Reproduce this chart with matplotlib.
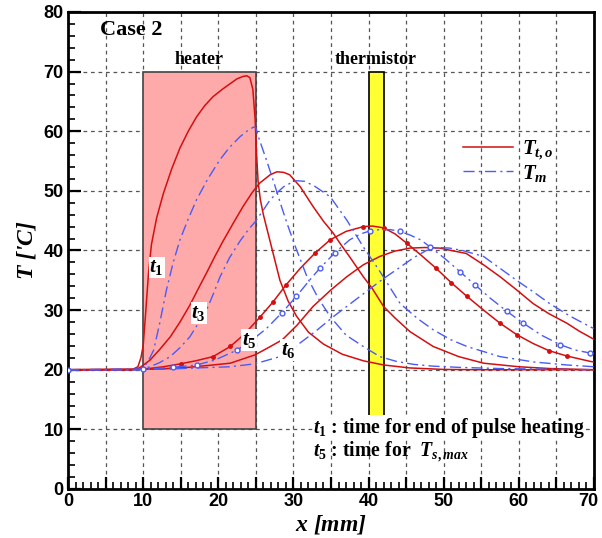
import matplotlib
matplotlib.use("Agg")
import matplotlib.pyplot as plt
from matplotlib.ticker import MultipleLocator, FixedLocator, FuncFormatter
from matplotlib.lines import Line2D
from matplotlib.patches import Rectangle
from matplotlib.transforms import ScaledTranslation

plt.rcParams['mathtext.fontset'] = 'custom'
plt.rcParams['mathtext.it'] = 'Liberation Serif:italic:bold'
plt.rcParams['mathtext.rm'] = 'Liberation Serif:bold'
plt.rcParams['mathtext.bf'] = 'Liberation Serif:bold'

# ---------------- data ----------------
x_r1 = [0, 8.5, 9.3, 9.7, 10.0, 10.3, 10.7, 11.1, 11.8, 12.7, 13.8, 14.9, 16.0, 17.1, 18.2, 19.3, 20.5,
        21.6, 22.5, 23.3, 23.8, 24.2, 24.6, 24.9, 25.1, 25.3, 25.6, 26.0, 26.6, 27.3, 28.2, 29.3, 30.4,
        32.0, 34.0, 36.5, 39.3, 42.0, 45.5, 50, 55, 70]
T_r1 = [20, 20, 20.5, 22, 24, 29, 36, 41, 45.5, 49.6, 53.7, 57.2, 60.0, 62.4, 64.3, 65.8, 67.0,
        68.0, 68.8, 69.2, 69.3, 69.0, 67.0, 62.0, 56.0, 51.5, 48.5, 46.0, 43.0, 39.5, 35.0, 31.5, 29.0,
        26.3, 24.3, 22.6, 21.5, 20.8, 20.3, 20.05, 20, 20]

x_r3 = [0, 9.0, 9.6, 10.9, 12.2, 13.6, 14.9, 16.2, 17.3, 18.5, 19.5, 20.6, 22.0, 23.3, 24.5, 25.5,
        26.9, 27.8, 28.7, 29.5, 30.9, 32.6, 34.0, 35.3, 36.2, 37.5, 39.3, 40.5, 42.0, 43.5, 45.5,
        48.6, 52.0, 55.3, 60, 64.1, 70]
T_r3 = [20, 20, 20.4, 21.6, 23.4, 25.5, 28.0, 30.8, 33.5, 36.4, 38.9, 41.5, 44.6, 47.4, 49.7, 51.3,
        52.7, 53.2, 53.1, 52.7, 50.7, 47.4, 44.9, 42.9, 41.2, 38.9, 35.6, 33.6, 30.6, 28.7, 26.4,
        23.9, 22.2, 21.1, 20.5, 20.2, 20.0]

x_r5 = [0, 10, 12.7, 15, 17, 19.3, 21.6, 23.5, 25.6, 27.3, 29, 30.9, 32.9, 34.9, 37, 39.3, 40.5, 42,
        43.5, 45.1, 47, 49, 51, 53.1, 55.3, 57.5, 59.7, 61.9, 64, 66.4, 69.5, 70]
T_r5 = [20, 20.1, 20.5, 21.0, 21.5, 22.2, 23.9, 26.0, 28.9, 31.4, 34.2, 37.0, 39.6, 41.8, 43.2, 44.0,
        44.1, 43.8, 42.8, 41.2, 39.2, 37.0, 34.6, 32.3, 30.0, 27.8, 25.9, 24.4, 23.2, 22.3, 21.4, 21.3]

x_r6 = [0, 12, 16, 19.3, 21.6, 24.9, 26.5, 28.5, 30.5, 32.6, 35, 37.1, 39.3, 41.5, 43.5, 45.5, 47.5,
        49.5, 51, 53, 55.3, 57.5, 59.7, 61.9, 64, 66.4, 68, 70]
T_r6 = [20, 20.1, 20.4, 20.8, 21.1, 22.5, 23.6, 25.0, 27.5, 30.6, 33.4, 35.6, 37.6, 39.0, 39.9, 40.4,
        40.5, 40.4, 40.0, 39.5, 37.6, 35.6, 33.4, 31.1, 29.4, 27.8, 26.5, 25.1]

x_b1 = [0, 9.5, 10, 10.7, 11.4, 12.2, 13.1, 14.0, 14.9, 16.0, 17.1, 18.6, 20.2, 21.5, 22.9, 24.0,
        24.7, 25.0, 25.3, 26.4, 27.5, 28.5, 29.3, 30.3, 31.8, 33.3, 34.9, 37, 39.3, 41.5, 43.7, 46,
        48.6, 52, 57.5, 70]
T_b1 = [20, 20, 20.2, 21.5, 23.3, 27.8, 33.4, 38.0, 41.8, 45.3, 48.5, 52.0, 55.2, 57.3, 59.1, 60.2,
        60.7, 60.6, 59.2, 55.2, 51.0, 47.0, 44.0, 40.5, 35.6, 32.0, 28.9, 25.8, 23.9, 22.2, 21.4, 20.9,
        20.6, 20.4, 20.2, 20.0]

x_b3 = [0, 9.5, 10.9, 12.2, 13.6, 14.9, 16.2, 17.3, 18.5, 19.4, 20.2, 21.5, 22.9, 24.0, 24.9, 26.0,
        26.9, 28.0, 28.7, 29.6, 30.4, 31.5, 32.8, 34.9, 37.1, 39.3, 41.5, 44.2, 46.5, 48.6, 51, 53.1,
        57.5, 62, 66.4, 70]
T_b3 = [20, 20, 20.5, 21.2, 22.2, 23.7, 25.5, 27.7, 30.2, 32.9, 35.5, 38.8, 41.6, 43.5, 44.8, 46.8,
        48.5, 49.9, 50.7, 51.3, 51.7, 51.6, 50.8, 49.0, 45.1, 40.6, 36.5, 31.1, 28.6, 26.7, 25.0, 23.9,
        22.2, 21.3, 20.8, 20.5]

x_b5 = [0, 10, 14, 17.1, 19.5, 22.5, 24.5, 26.4, 28.5, 30.4, 32, 33.5, 35.5, 37.5, 39, 40.2, 41.5,
        42.9, 44.2, 45.5, 46.9, 48.2, 50.2, 52.2, 54.2, 56.2, 58.4, 60.6, 63, 65.5, 67.5, 69.5, 70]
T_b5 = [20, 20.1, 20.4, 20.8, 21.6, 23.3, 25.0, 26.9, 29.6, 32.3, 34.8, 37.0, 39.6, 41.8, 42.8, 43.3,
        43.5, 43.5, 43.2, 42.6, 41.8, 40.6, 38.6, 36.4, 34.2, 32.0, 29.8, 27.8, 25.8, 24.2, 23.3, 22.8, 22.7]

x_b6 = [0, 13, 17, 21.6, 24.9, 28.2, 30.9, 33, 35.3, 37.5, 39.8, 42, 44.2, 46, 47.7, 49.3, 50.8, 52.5,
        55.3, 57.5, 59.7, 62, 64.1, 66.8, 69.5, 70]
T_b6 = [20, 20.1, 20.3, 20.5, 21.0, 22.2, 24.5, 26.5, 28.9, 31.0, 33.2, 35.3, 37.2, 38.8, 40.0, 40.5,
        40.4, 40.0, 39.0, 37.0, 35.0, 33.0, 31.1, 29.0, 27.2, 26.9]

heater_x = [10, 25]
thermistor_x = [40, 42]
box_T = [10, 70]

x_major_ticks = [0, 5, 10, 15, 20, 25, 30, 35, 40, 45, 50, 55, 60, 65, 70]

curve_labels = ['t_1', 't_3', 't_5', 't_6']
curve_label_x = [11.8, 17.4, 24.1, 29.3]
curve_label_T = [37.2, 29.5, 25.0, 23.3]

legend_labels = [r'$T_{t,o}$', r'$T_m$']

# ---------------- figure ----------------
fig = plt.figure(figsize=(6.02, 5.38), dpi=100)
ax = fig.add_axes([0.113, 0.0911, 0.8737, 0.8866])
ax.set_xlim(0, 70)
ax.set_ylim(0, 80)

ax.xaxis.set_major_locator(FixedLocator(x_major_ticks))
ax.xaxis.set_minor_locator(MultipleLocator(1))
ax.yaxis.set_major_locator(MultipleLocator(10))
ax.yaxis.set_minor_locator(MultipleLocator(2))
ax.grid(True, which='major', color='#555555', lw=0.9, ls=(0, (3, 3)))
ax.set_axisbelow(True)
ax.xaxis.set_major_formatter(FuncFormatter(lambda v, p: f"{int(round(v))}" if round(v) % 10 == 0 else ""))

ax.tick_params(which='major', direction='in', length=9, width=1.6, labelsize=13, pad=3)
ax.tick_params(which='minor', direction='in', length=5, width=1.2)
for lab in ax.get_xticklabels() + ax.get_yticklabels():
    lab.set_fontfamily('Liberation Sans')
    lab.set_fontweight('bold')
for sp in ax.spines.values():
    sp.set_linewidth(2.0)

# nudge the last x tick label so it stays inside the figure
last_tick = ax.xaxis.get_major_ticks()[-1]
last_tick.label1.set_transform(last_tick.label1.get_transform() +
                               ScaledTranslation(-4 / 72, 0, fig.dpi_scale_trans))

# heater and thermistor
ax.add_patch(Rectangle((heater_x[0], box_T[0]), heater_x[1] - heater_x[0], box_T[1] - box_T[0],
                       facecolor='#ffaaaa', edgecolor='#444444', lw=1.2, zorder=1))
ax.add_patch(Rectangle((thermistor_x[0], box_T[0]), thermistor_x[1] - thermistor_x[0], box_T[1] - box_T[0],
                       facecolor='#ffff33', edgecolor='black', lw=1.2, zorder=1))

red = '#d40f0f'
blue = '#4a5cf5'
dash = (0, (8, 3, 1.5, 3))

for xs, ts in [(x_r1, T_r1), (x_r3, T_r3), (x_r6, T_r6)]:
    ax.plot(xs, ts, color=red, lw=1.1, zorder=3)
ax.plot(x_r5, T_r5, color=red, lw=1.1, zorder=3, marker='o', markersize=2.5, markevery=0.04)
for xs, ts in [(x_b1, T_b1), (x_b3, T_b3), (x_b6, T_b6)]:
    ax.plot(xs, ts, color=blue, lw=1.0, ls=dash, zorder=4)
ax.plot(x_b5, T_b5, color=blue, lw=1.0, ls=dash, zorder=4, marker='o', markersize=3.5,
        markerfacecolor='white', markeredgewidth=1.0, markevery=0.045)

# labels on curves
for lab, lx, lt in zip(curve_labels, curve_label_x, curve_label_T):
    ax.text(lx, lt, f'${lab}$', fontsize=15, ha='center', va='center', zorder=6,
            bbox=dict(facecolor='white', edgecolor='none', pad=0.5))

serif = 'Liberation Serif'
ax.text(4.3, 77, 'Case 2', fontsize=16, fontweight='bold', family=serif, ha='left', va='center')
ax.text(17.5, 72.0, 'heater', fontsize=13, fontweight='bold', family=serif, ha='center', va='center')
ax.text(41.0, 72.0, 'thermistor', fontsize=13, fontweight='bold', family=serif, ha='center', va='center')
ax.text(32.6, 10.3, r'$t_1$ : time for end of pulse heating', fontsize=14.2, fontweight='bold',
        family=serif, ha='left', va='center', zorder=6,
        bbox=dict(facecolor='white', edgecolor='none', pad=0.3))
ax.text(32.6, 6.2, r'$t_5$ : time for  $T_{s,max}$', fontsize=14.2, fontweight='bold',
        family=serif, ha='left', va='center', zorder=6)

handles = [Line2D([], [], color=red, lw=1.1), Line2D([], [], color=blue, lw=1.0, ls=dash)]
leg = ax.legend(handles, legend_labels, loc='upper left', bbox_to_anchor=(0.716, 0.775),
                frameon=False, fontsize=15, handlelength=2.4, handletextpad=0.4, labelspacing=0.05)

ax.set_xlabel(r'$x$ [mm]', fontsize=17, fontweight='bold', fontstyle='italic', family=serif, labelpad=2)
ax.set_ylabel(r"$T$ ['C]", fontsize=17, fontweight='bold', fontstyle='italic', family=serif, labelpad=4)

fig.savefig('out.png', dpi=100)
